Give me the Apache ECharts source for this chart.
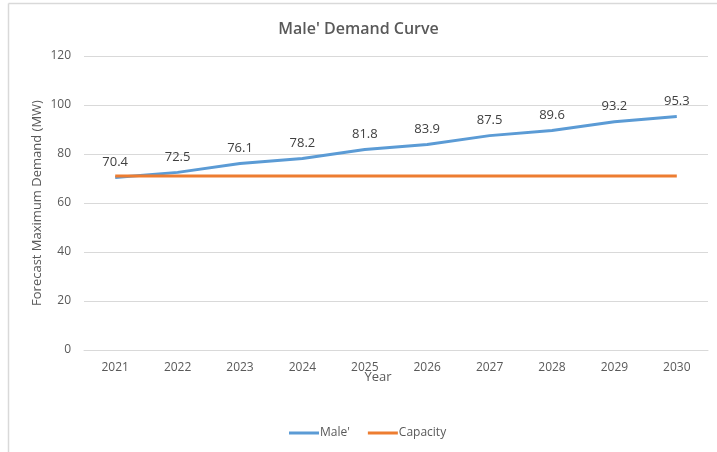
<!DOCTYPE html>
<html>
<head>
<meta charset="utf-8">
<script src="https://cdn.jsdelivr.net/npm/echarts@6/dist/echarts.min.js"></script>
<style>html,body{margin:0;padding:0;background:#fff;}#c{width:717px;height:452px;}</style>
</head>
<body>
<div id="c"></div>
<script>
const years = ['2021','2022','2023','2024','2025','2026','2027','2028','2029','2030'];
const maleDemand = [70.4, 72.5, 76.1, 78.2, 81.8, 83.9, 87.5, 89.6, 93.2, 95.3];
const capacity = [71, 71, 71, 71, 71, 71, 71, 71, 71, 71];
const yTicks = { min: 0, max: 120, interval: 20 };

const font = '"Open Sans", "Noto Sans", sans-serif';
const chart = echarts.init(document.getElementById('c'));
chart.setOption({
  animation: false,
  textStyle: { fontFamily: font },
  title: {
    text: "Male' Demand Curve",
    left: 'center',
    top: 16,
    textStyle: { fontFamily: font, fontSize: 16, fontWeight: 600, color: '#595959' }
  },
  graphic: [
    { type: 'line', shape: { x1: 8.5, y1: 3.5, x2: 717, y2: 3.5 }, style: { stroke: '#d9d9d9', lineWidth: 1.5 } },
    { type: 'line', shape: { x1: 8.5, y1: 3.5, x2: 8.5, y2: 452 }, style: { stroke: '#d9d9d9', lineWidth: 1.5 } }
  ],
  legend: {
    bottom: 8,
    left: 284,
    itemWidth: 30,
    itemHeight: 3,
    itemGap: 18,
    icon: 'rect',
    textStyle: { fontFamily: font, fontSize: 12, color: '#595959', padding: [0, 0, 0, -4] },
    data: ["Male'", 'Capacity']
  },
  grid: { left: 84, right: 9, top: 56, bottom: 102 },
  xAxis: {
    type: 'category',
    data: years,
    boundaryGap: true,
    name: 'Year',
    nameLocation: 'middle',
    nameGap: 21,
    nameMoveOverlap: false,
    nameTextStyle: { fontFamily: font, fontSize: 13, color: '#595959', padding: [0, 36, 0, 0] },
    axisLine: { show: true, lineStyle: { color: '#d9d9d9', width: 1 } },
    axisTick: { show: false },
    axisLabel: { color: '#595959', fontSize: 12, margin: 12, fontFamily: font }
  },
  yAxis: {
    type: 'value',
    min: yTicks.min,
    max: yTicks.max,
    interval: yTicks.interval,
    name: 'Forecast Maximum Demand (MW)',
    nameLocation: 'middle',
    nameGap: 40,
    nameMoveOverlap: false,
    nameTextStyle: { fontFamily: font, fontSize: 13, color: '#595959' },
    axisLine: { show: false },
    axisTick: { show: false },
    axisLabel: { color: '#595959', fontSize: 12, margin: 13, fontFamily: font },
    splitLine: { lineStyle: { color: '#d9d9d9', width: 1 } }
  },
  series: [
    {
      name: "Male'",
      type: 'line',
      data: maleDemand,
      symbol: 'circle',
      symbolSize: 0,
      showSymbol: true,
      lineStyle: { color: '#5B9BD5', width: 3 },
      itemStyle: { color: '#5B9BD5' },
      label: { show: true, position: 'top', distance: 9, color: '#404040', fontSize: 13, fontFamily: font, formatter: p => p.value.toFixed(1) },
      z: 2
    },
    {
      name: 'Capacity',
      type: 'line',
      data: capacity,
      symbol: 'none',
      lineStyle: { color: '#ED7D31', width: 3 },
      itemStyle: { color: '#ED7D31' },
      z: 3
    }
  ]
});
</script>
</body>
</html>
